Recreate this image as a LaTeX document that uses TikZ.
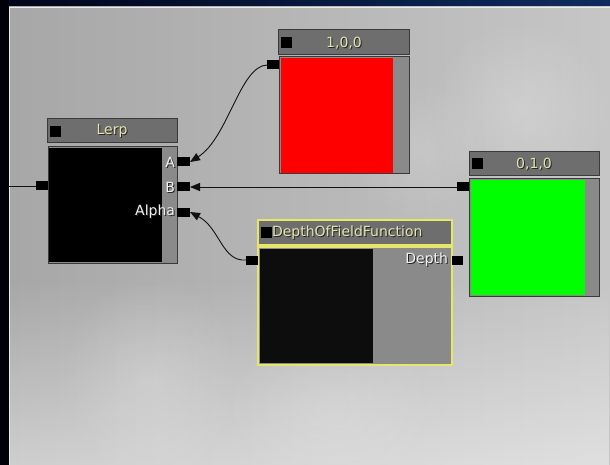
\documentclass[tikz,border=0pt]{standalone}
\usepackage{fontspec}
\setmainfont{DejaVu Sans}
\usetikzlibrary{arrows.meta,fadings,calc}

\definecolor{framenavy}{HTML}{000418}
\definecolor{framenavyR}{HTML}{0E2C60}
\definecolor{canvasL}{HTML}{A7A7A7}
\definecolor{canvasR}{HTML}{C6C6C6}
\definecolor{titlegray}{HTML}{6E6E6E}
\definecolor{edgegray}{HTML}{3A3A3A}
\definecolor{stripgray}{HTML}{8A8A8A}
\definecolor{titletext}{HTML}{E4E4B0}
\definecolor{pintext}{HTML}{F2F2F2}
\definecolor{selyellow}{HTML}{E6E66A}
\definecolor{wire}{HTML}{111111}

\tikzfading[name=fadebottom, top color=transparent!100, bottom color=transparent!0]
\tikzfading[name=softblob, inner color=transparent!0, outer color=transparent!100]

\tikzset{
  box/.style={rectangle, anchor=north west, inner sep=0pt, outer sep=0pt,
              minimum width=#1},
  titlebar/.style={fill=titlegray, draw=edgegray, line width=1pt},
  bodybox/.style={fill=stripgray, draw=edgegray, line width=1pt},
  pinbox/.style={rectangle, fill=black, inner sep=0pt, outer sep=0pt,
                 minimum width=12pt, minimum height=9pt},
  uitext/.style={inner sep=0pt, outer sep=0pt, font=\fontsize{14}{16}\selectfont},
  wireline/.style={draw=wire, line width=0.9pt,
                   -{Triangle[length=10pt,width=8pt]}},
  haze/.style={fill=white, path fading=softblob},
}

% text with a one-pixel dark drop shadow
\newcommand\shadowed[5]{%
  \node[uitext, text=black!85, anchor=#3] at ($(#2)+(1,1)$) {#5};
  \node[uitext, text=#4, anchor=#3] (#1) at (#2) {#5};
}

\begin{document}
\begin{tikzpicture}[x=1pt,y=-1pt]
\useasboundingbox (0,0) rectangle (610,465);

% window frame
\shade[left color=framenavy, right color=framenavyR] (0,0) rectangle (610,7);
\fill[black!97!blue] (0,0) rectangle (9,465);

% canvas with soft background light
\begin{scope}
\clip (9,7) rectangle (610,465);
\shade[left color=canvasL, right color=canvasR] (9,7) rectangle (610,465);
\fill[white, opacity=0.45, path fading=fadebottom] (9,280) rectangle (610,465);
\fill[haze, opacity=0.22] (520,110) circle (90);
\fill[haze, opacity=0.15] (420,150) circle (70);
\fill[haze, opacity=0.18] (150,380) ellipse (90 and 110);
\fill[haze, opacity=0.14] (330,410) ellipse (110 and 80);
\end{scope}
\draw[white!92!black, line width=1pt] (9,7.5) -- (610,7.5);
\draw[white!92!black, line width=1pt] (9.5,7) -- (9.5,465);

% ---------- Lerp ----------
\node[box=130pt, minimum height=24pt, titlebar] (lerpT) at (47,119) {};
\node[box=11pt, minimum height=11pt, fill=black] (lerpSq) at (50,126) {};
\shadowed{lerpName}{112,131}{center}{titletext}{Lerp}
\node[box=129pt, minimum height=116pt, bodybox] (lerpB) at (48,147) {};
\node[box=113pt, minimum height=114pt, fill=black] (lerpP) at (49,148) {};
\node[pinbox] (lerpIn) at (42,186) {};
\node[pinbox, minimum width=13pt] (pinA) at (183.5,162) {};
\node[pinbox, minimum width=13pt] (pinB) at (183.5,187) {};
\node[pinbox, minimum width=13pt] (pinAlpha) at (183.5,212) {};
\shadowed{labA}{175,162}{east}{pintext}{A}
\shadowed{labB}{175,187}{east}{pintext}{B}
\shadowed{labAlpha}{175,212}{east}{pintext}{Alpha}

% ---------- constant 1,0,0 ----------
\node[box=131pt, minimum height=25pt, titlebar] (redT) at (278,30) {};
\node[box=11pt, minimum height=11pt, fill=black] (redSq) at (281,37) {};
\shadowed{redName}{344,43}{center}{titletext}{1,0,0}
\node[box=130pt, minimum height=117pt, bodybox] (redB) at (279,57) {};
\node[box=112pt, minimum height=115pt, fill=red] (redP) at (281,58) {};
\node[pinbox] (redIn) at (273,65) {};

% ---------- constant 0,1,0 ----------
\node[box=130pt, minimum height=24pt, titlebar] (grnT) at (469,152) {};
\node[box=11pt, minimum height=11pt, fill=black] (grnSq) at (472,158) {};
\shadowed{grnName}{534,164}{center}{titletext}{0,1,0}
\node[box=130pt, minimum height=117pt, bodybox] (grnB) at (469,179) {};
\node[box=114pt, minimum height=115pt, fill=green] (grnP) at (471,180) {};
\node[pinbox] (grnIn) at (463,187) {};

% ---------- DepthOfFieldFunction (selected) ----------
\node[box=194pt, minimum height=25pt, titlebar, draw=selyellow, line width=1.5pt] (dofT) at (258,220) {};
\node[box=11pt, minimum height=11pt, fill=black] (dofSq) at (261,227) {};
\shadowed{dofName}{272,233}{west}{titletext}{DepthOfFieldFunction}
\node[box=194pt, minimum height=118pt, bodybox, draw=selyellow, line width=1.5pt] (dofB) at (258,247) {};
\node[box=113pt, minimum height=114pt, fill=black!95] (dofP) at (260,249) {};
\node[pinbox] (dofIn) at (252,260) {};
\node[pinbox, minimum width=11pt] (dofOut) at (457.5,260) {};
\shadowed{labDepth}{448,260}{east}{pintext}{Depth}

% ---------- connections ----------
\coordinate (leftEdge) at (9,186);
\draw[draw=wire, line width=0.9pt] (leftEdge) -- (lerpIn.west);
\draw[wireline] (redIn.west) .. controls (240,66) and (228,138) .. (pinA.east);
\draw[wireline] (grnIn.west) -- (pinB.east);
\draw[wireline] (dofIn.west) .. controls (222,262) and (220,228) .. (pinAlpha.east);

\end{tikzpicture}
\end{document}
